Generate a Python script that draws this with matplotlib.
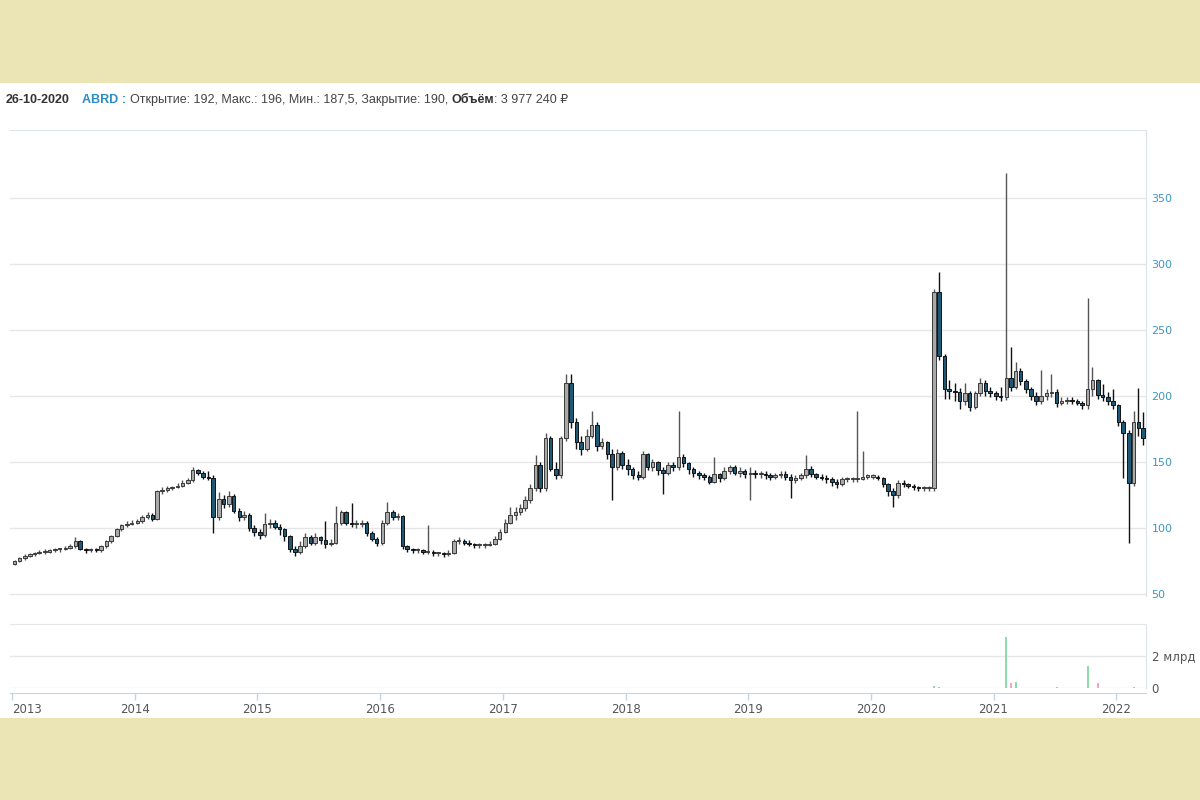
import matplotlib
matplotlib.use('Agg')
import matplotlib.pyplot as plt
import matplotlib.dates as mdates
from matplotlib.patches import Rectangle
import numpy as np
import pandas as pd

# Half-month candles, Jan 2013 .. Mar 2022 (price, RUB)
closes = [
    75, 77, 79, 80, 81, 82, 82, 83, 84, 84, 85, 86, 90, 84, 83, 84, 83, 86, 90, 94, 99, 102, 103, 104,
    105, 108, 110, 107, 128, 129, 130, 131, 132, 134, 136, 144, 142, 139, 138, 108, 122, 118, 124, 113, 108, 110, 100, 97,
    95, 103, 104, 101, 99, 94, 84, 82, 86, 93, 89, 93, 91, 88, 89, 104, 112, 104, 103, 103, 104, 96, 92, 89,
    104, 112, 108, 109, 86, 84, 83, 83, 82, 82, 81, 81, 80, 81, 90, 90, 89, 88, 87, 87, 87, 88, 92, 97, 104,
    110, 112, 115, 121, 130, 148, 130, 168, 145, 140, 168, 210, 180, 165, 160, 170, 178, 162, 165, 156, 146, 157, 148, 145,
    140, 139, 156, 146, 150, 144, 142, 148, 146, 154, 149, 145, 142, 140, 139, 135, 141, 138, 143, 146, 142, 143, 141, 142,
    141, 141, 140, 139, 140, 141, 139, 136, 138, 140, 145, 141, 139, 138, 137, 135, 133, 137, 137, 137, 137, 139, 139, 139,
    138, 133, 128, 125, 134, 133, 132, 131, 130, 130, 130, 279, 230, 205, 204, 203, 196, 202, 192, 202, 210, 204, 202, 200,
    199, 214, 207, 219, 211, 205, 200, 196, 200, 202, 203, 195, 196, 197, 196, 195, 193, 205, 212, 201, 199, 196, 193, 180,
    172, 134, 180, 176, 168,
]
highs = [
    76, 78, 80, 81, 82, 83, 84, 84, 85, 85, 86, 88, 93, 91, 85, 85, 85, 87, 91, 95, 100, 103, 105, 106,
    107, 110, 112, 111, 129, 131, 132, 132, 134, 136, 138, 146, 145, 143, 143, 140, 127, 125, 128, 126, 115, 113, 111, 102,
    99, 111, 107, 106, 103, 100, 95, 86, 90, 96, 95, 96, 94, 105, 92, 117, 114, 113, 119, 106, 106, 105, 98, 93,
    106, 120, 114, 111, 110, 87, 85, 85, 84, 102, 83, 82, 82, 83, 92, 93, 92, 91, 89, 89, 89, 90, 94, 99, 107,
    116, 116, 118, 124, 133, 155, 150, 172, 170, 150, 170, 217, 217, 183, 170, 175, 189, 180, 168, 166, 160, 160, 158, 152,
    146, 143, 158, 157, 152, 151, 146, 150, 150, 189, 156, 150, 146, 143, 142, 140, 154, 142, 146, 148, 148, 146, 145, 146,
    144, 143, 143, 142, 142, 143, 143, 141, 140, 142, 155, 147, 142, 141, 140, 139, 137, 139, 139, 139, 189, 158, 141, 141,
    140, 139, 134, 130, 136, 136, 134, 133, 132, 132, 132, 281, 294, 232, 212, 210, 206, 210, 204, 204, 214, 212, 207, 204,
    207, 369, 237, 226, 221, 213, 207, 203, 220, 205, 217, 205, 199, 199, 199, 198, 196, 274, 222, 213, 209, 203, 205, 194,
    182, 174, 189, 206, 188,
]
lows = [
    72, 74, 76, 78, 79, 80, 80, 81, 82, 82, 83, 84, 85, 83, 81, 82, 82, 82, 85, 89, 93, 98, 101, 102,
    103, 104, 107, 105, 106, 126, 127, 129, 130, 131, 133, 135, 140, 137, 136, 96, 106, 115, 116, 111, 105, 106, 98, 94,
    92, 93, 100, 99, 95, 90, 82, 79, 80, 85, 87, 87, 88, 85, 86, 88, 102, 102, 101, 100, 101, 94, 90, 86,
    87, 102, 106, 106, 84, 82, 81, 81, 80, 80, 79, 79, 78, 79, 80, 88, 87, 86, 85, 85, 85, 86, 87, 91, 96,
    103, 106, 110, 113, 119, 128, 127, 128, 143, 137, 138, 166, 176, 160, 155, 158, 168, 158, 160, 152, 121, 144, 145, 140,
    137, 136, 137, 144, 143, 140, 126, 140, 143, 144, 146, 141, 139, 137, 136, 133, 134, 135, 136, 141, 140, 139, 138, 121,
    138, 138, 137, 136, 137, 138, 136, 123, 134, 136, 138, 139, 137, 136, 134, 132, 130, 132, 135, 135, 135, 136, 137, 137,
    136, 131, 124, 116, 123, 131, 130, 129, 128, 128, 128, 128, 227, 198, 198, 196, 190, 193, 189, 190, 200, 200, 199, 197,
    196, 197, 204, 205, 208, 202, 197, 193, 194, 197, 199, 192, 193, 194, 194, 193, 190, 190, 200, 198, 196, 193, 190, 177,
    138, 89, 132, 170, 163,
]
first_open = 73

# Visible volume bars (candle index, billions RUB)
vol_idx = [180, 181, 194, 195, 196, 204, 210, 212, 219, 221]
vol_bn = [0.15, 0.05, 3.2, 0.3, 0.35, 0.05, 1.4, 0.3, 0.05, 0.03]

price_ticks = [50, 100, 150, 200, 250, 300, 350]

# Derived arrays
opens = np.array([first_open] + closes[:-1], dtype=float)
closes_a = np.array(closes, dtype=float)
highs_a = np.array(highs, dtype=float)
lows_a = np.array(lows, dtype=float)
dates = pd.date_range('2013-01-01', periods=len(closes), freq='SMS') + pd.Timedelta(days=7)
x = mdates.date2num(dates.to_pydatetime())
up = closes_a >= opens

UP_FACE, UP_EDGE = '#a9a9a9', '#3a3a3a'
DN_FACE, DN_EDGE = '#1e5a78', '#111111'
GRID = '#e6e6e6'
BORDER = '#dde3ea'

fig = plt.figure(figsize=(12, 8), dpi=100)
fig.patch.set_facecolor('white')
fig.add_artist(Rectangle((0, 1 - 83 / 800), 1, 83 / 800, transform=fig.transFigure,
                         facecolor='#ebe4b4', edgecolor='none', zorder=0))
fig.add_artist(Rectangle((0, 0), 1, 82 / 800, transform=fig.transFigure,
                         facecolor='#ebe4b4', edgecolor='none', zorder=0))

left, width = 10 / 1200, 1136 / 1200
ax = fig.add_axes([left, 1 - 596 / 800, width, (596 - 130) / 800])
axv = fig.add_axes([left, 1 - 688 / 800, width, (688 - 624) / 800], sharex=ax)

# Candles
body_w = 10.5
ax.vlines(x[up], lows_a[up], highs_a[up], color='#555555', lw=1.0, zorder=2)
ax.vlines(x[~up], lows_a[~up], highs_a[~up], color='#111111', lw=1.0, zorder=2)
bottoms = np.minimum(opens, closes_a)
heights = np.maximum(np.abs(closes_a - opens), 0.8)
ax.bar(x[up], heights[up], width=body_w, bottom=bottoms[up], color=UP_FACE,
       edgecolor=UP_EDGE, linewidth=0.7, zorder=3)
ax.bar(x[~up], heights[~up], width=body_w, bottom=bottoms[~up], color=DN_FACE,
       edgecolor=DN_EDGE, linewidth=0.7, zorder=3)

ax.set_ylim(48.5, 401.5)
ax.set_xlim(mdates.datestr2num('2012-12-25'), mdates.datestr2num('2022-03-31'))
ax.set_yticks(price_ticks)
ax.yaxis.tick_right()
ax.tick_params(axis='y', length=0, pad=4, labelsize=8, labelcolor='#3d96c4')
ax.tick_params(axis='x', bottom=False, labelbottom=False)
ax.grid(axis='y', color=GRID, lw=1)
ax.set_axisbelow(True)
for side in ['left', 'bottom']:
    ax.spines[side].set_visible(False)
for side in ['top', 'right']:
    ax.spines[side].set_color(BORDER)

# Volume
vcol = ['#8fdcaa' if up[i] else '#f2a7b6' for i in vol_idx]
axv.bar(x[vol_idx], vol_bn, width=6, color=vcol, zorder=3)
axv.set_ylim(0, 4)
axv.set_yticks([0, 2])
axv.set_yticklabels(['0', '2 млрд'])
axv.yaxis.tick_right()
axv.tick_params(axis='y', length=0, pad=4, labelsize=8.5, labelcolor='#555555')
axv.grid(axis='y', color=GRID, lw=1)
axv.set_axisbelow(True)
axv.spines['left'].set_visible(False)
axv.spines['top'].set_color(GRID)
axv.spines['right'].set_color(BORDER)
axv.spines['bottom'].set_position(('outward', 3.6))
axv.spines['bottom'].set_color('#c8d4e0')

years = [mdates.datestr2num('%d-01-01' % y) for y in range(2013, 2023)]
axv.set_xticks(years)
axv.set_xticklabels([str(y) for y in range(2013, 2023)])
axv.tick_params(axis='x', length=5, width=1, color='#c8d4e0', pad=2,
                labelsize=8.5, labelcolor='#555555')
axv.get_xticklabels()[0].set_ha('left')

# Header line
hdr = dict(fontsize=9, family=['Liberation Sans', 'DejaVu Sans'], va='bottom')
pieces = [
    ('ABRD :', 'bold', '#2b8cc4', 9),
    ('Открытие: 192, Макс.: 196, Мин.: 187,5, Закрытие: 190,', 'normal', '#444444', 2.5),
    ('Объём', 'bold', '#333333', 2.5),
    (': 3 977 240 ₽', 'normal', '#444444', 0),
]
prev = fig.text(6 / 1200, 1 - 106 / 800, '26-10-2020', fontweight='bold', color='#333333', **hdr)
for s, w, c, gap in pieces:
    prev = ax.annotate(s, xy=(1, 0), xycoords=prev, xytext=(gap, 0), textcoords='offset points',
                       fontweight=w, color=c, annotation_clip=False, **hdr)

fig.savefig('out.png', dpi=100, facecolor=fig.get_facecolor())
